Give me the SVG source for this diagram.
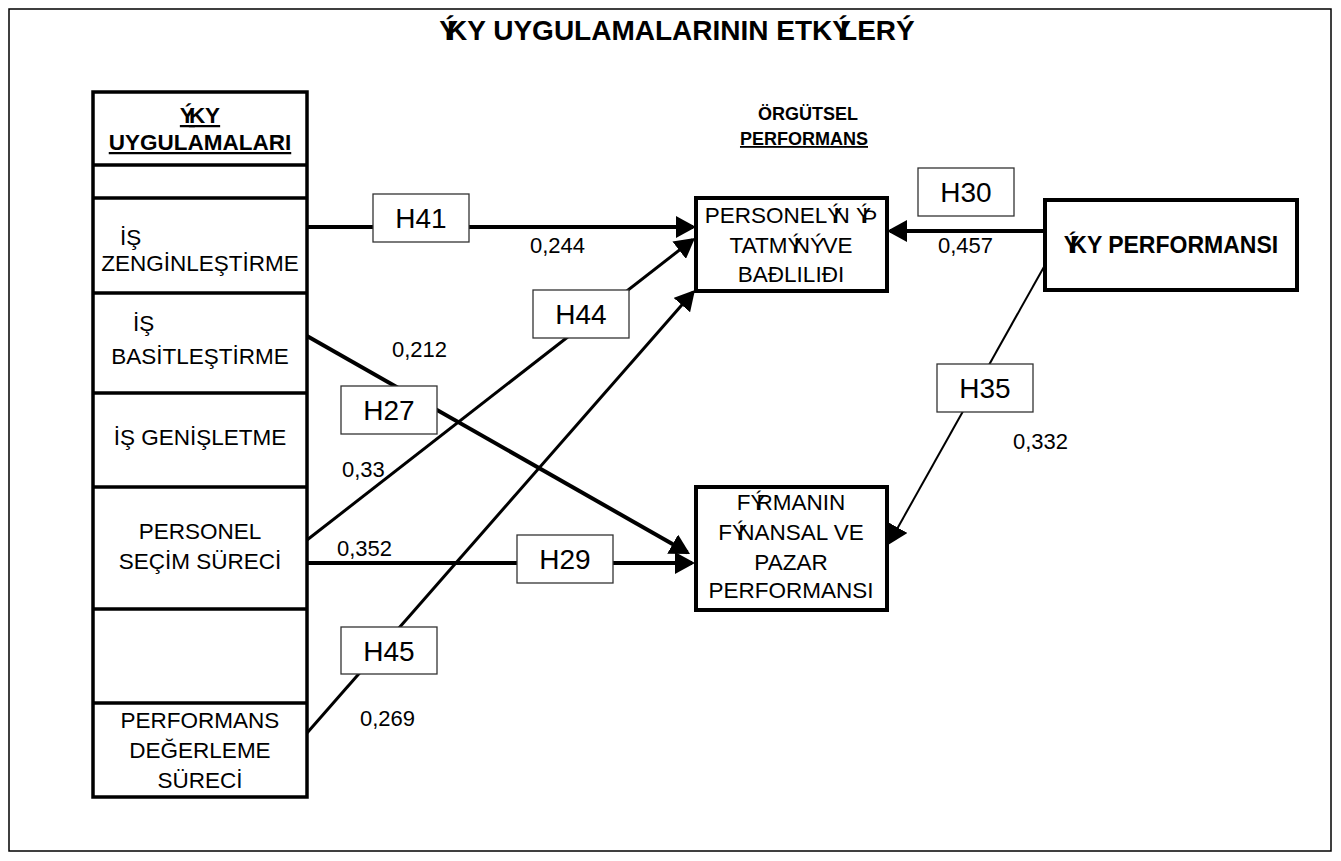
<svg xmlns="http://www.w3.org/2000/svg" width="1341" height="861" viewBox="0 0 1341 861">
<style>
text{font-family:"Liberation Sans",Arial,sans-serif;fill:#000}
.t{font-size:22.5px;text-anchor:middle}
.b{font-weight:bold}
.u{text-decoration:underline}
.h{font-size:28px;text-anchor:middle}
.n{font-size:22px}
.box{fill:#fff;stroke:#000;stroke-width:4}
.cell{fill:#fff;stroke:#000;stroke-width:3.5}
.lab{fill:#fff;stroke:#333;stroke-width:1.3}
.c{fill:none;stroke:#000}
</style>
<defs>
<marker id="ah" viewBox="0 0 20 22" refX="17" refY="11" markerWidth="20" markerHeight="22" markerUnits="userSpaceOnUse" orient="auto">
<path d="M0,0 L20,11 L0,22 z" fill="#000"/>
</marker>
</defs>
<rect x="0" y="0" width="1341" height="861" fill="#fff"/>
<rect x="9" y="9" width="1322" height="842" fill="none" stroke="#000" stroke-width="1.5"/>
<text x="677" y="40" class="b" font-size="28" text-anchor="middle">Ý<tspan dx="-10.9">KY UYGULAMALARININ ETKÝ</tspan><tspan dx="-10.9">LERÝ</tspan></text>

<g id="connectors">
<path class="c" stroke-width="4" d="M307,227 H693" marker-end="url(#ah)"/>
<path class="c" stroke-width="4" d="M1045,231 H890" marker-end="url(#ah)"/>
<path class="c" stroke-width="4" d="M307,563 H692" marker-end="url(#ah)"/>
<path class="c" stroke-width="3" d="M307,540 L692.6,239.8" marker-end="url(#ah)"/>
<path class="c" stroke-width="3" d="M307,733 L693,292.3" marker-end="url(#ah)"/>
<path class="c" stroke-width="4" d="M307,336 L687.4,552.5" marker-end="url(#ah)"/>
<path class="c" stroke-width="2" d="M1045,265 L889.5,542.4" marker-end="url(#ah)"/>
</g>

<g id="iky-uygulamalari">
<rect class="cell" x="93" y="92" width="214" height="705"/>
<g id="header">
<text x="200" y="123" class="t b u">Ý<tspan dx="-6">KY</tspan></text>
<text x="200" y="150" class="t b u">UYGULAMALARI</text>
</g>
<line x1="93" y1="165" x2="307" y2="165" stroke="#000" stroke-width="3.5"/>
<g id="blank1"></g>
<line x1="93" y1="198" x2="307" y2="198" stroke="#000" stroke-width="3.5"/>
<g id="is-zenginlestirme">
<text x="120" y="245" font-size="22.5">İŞ</text>
<text x="200" y="271" class="t">ZENGİNLEŞTİRME</text>
</g>
<line x1="93" y1="293" x2="307" y2="293" stroke="#000" stroke-width="3.5"/>
<g id="is-basitlestirme">
<text x="133" y="331" font-size="22.5">İŞ</text>
<text x="200" y="364" class="t">BASİTLEŞTİRME</text>
</g>
<line x1="93" y1="393" x2="307" y2="393" stroke="#000" stroke-width="3.5"/>
<g id="is-genisletme">
<text x="200" y="445" class="t">İŞ GENİŞLETME</text>
</g>
<line x1="93" y1="487" x2="307" y2="487" stroke="#000" stroke-width="3.5"/>
<g id="personel-secim">
<text x="200" y="539" class="t">PERSONEL</text>
<text x="200" y="569" class="t">SEÇİM SÜRECİ</text>
</g>
<line x1="93" y1="609" x2="307" y2="609" stroke="#000" stroke-width="3.5"/>
<g id="blank2"></g>
<line x1="93" y1="703" x2="307" y2="703" stroke="#000" stroke-width="3.5"/>
<g id="performans-degerleme">
<text x="200" y="728" class="t">PERFORMANS</text>
<text x="200" y="758" class="t">DEĞERLEME</text>
<text x="200" y="788" class="t">SÜRECİ</text>
</g>
</g>

<g id="orgutsel-performans">
<text x="808" y="120" font-size="18" class="b" text-anchor="middle">ÖRGÜTSEL</text>
<text x="804" y="145" font-size="18" class="b u" text-anchor="middle">PERFORMANS</text>
</g>

<g id="personel-is-tatmini">
<rect class="box" x="696" y="198" width="191" height="93"/>
<text x="791" y="223" class="t">PERSONELÝ<tspan dx="-8.8">N Ý</tspan><tspan dx="-8.8">Þ</tspan></text>
<text x="791" y="253" class="t">TATMÝ<tspan dx="-8.8">NÝ</tspan><tspan dx="-8.8"> VE</tspan></text>
<text x="791" y="282" class="t">BAÐLILIÐI</text>
</g>

<g id="firmanin-performansi">
<rect class="box" x="696" y="487" width="191" height="123"/>
<text x="791" y="510" class="t">FÝ<tspan dx="-8.8">RMANIN</tspan></text>
<text x="791" y="540" class="t">FÝ<tspan dx="-8.8">NANSAL VE</tspan></text>
<text x="791" y="570" class="t">PAZAR</text>
<text x="791" y="598" class="t">PERFORMANSI</text>
</g>

<g id="iky-performansi">
<rect class="box" x="1045" y="200" width="252" height="90"/>
<text x="1171" y="253" font-size="23" class="b" text-anchor="middle">Ý<tspan dx="-8.9">KY PERFORMANSI</tspan></text>
</g>

<g id="labels">
<rect class="lab" x="373" y="194" width="96" height="48"/><text x="421" y="228" class="h">H41</text>
<rect class="lab" x="918" y="168" width="96" height="48"/><text x="966" y="202" class="h">H30</text>
<rect class="lab" x="533" y="290" width="96" height="48"/><text x="581" y="324" class="h">H44</text>
<rect class="lab" x="341" y="386" width="96" height="48"/><text x="389" y="420" class="h">H27</text>
<rect class="lab" x="517" y="535" width="96" height="48"/><text x="565" y="569" class="h">H29</text>
<rect class="lab" x="341" y="627" width="96" height="47"/><text x="389" y="661" class="h">H45</text>
<rect class="lab" x="937" y="364" width="96" height="48"/><text x="985" y="398" class="h">H35</text>
<text x="530" y="253" class="n">0,244</text>
<text x="938" y="253" class="n">0,457</text>
<text x="392" y="357" class="n">0,212</text>
<text x="342" y="477" class="n">0,33</text>
<text x="337" y="556" class="n">0,352</text>
<text x="360" y="726" class="n">0,269</text>
<text x="1013" y="449" class="n">0,332</text>
</g>
</svg>
